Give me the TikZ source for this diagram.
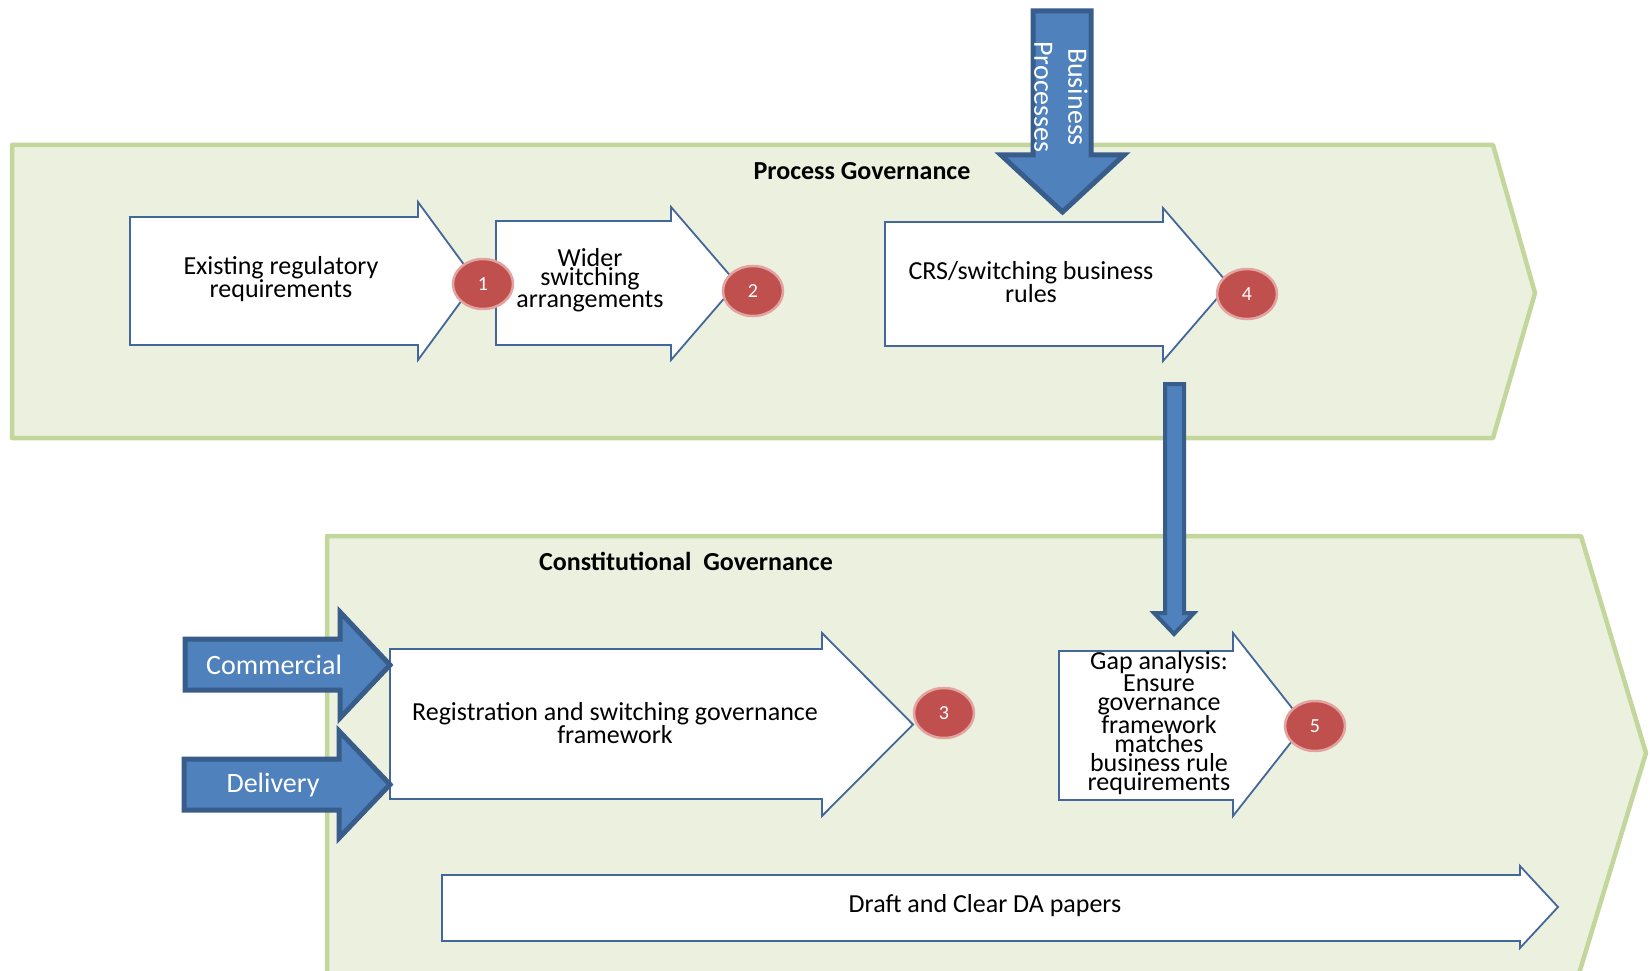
\documentclass[tikz,border=0pt]{standalone}
\usepackage{fontspec}
\setmainfont{Carlito}
\usetikzlibrary{shapes.geometric}
\definecolor{bandfill}{HTML}{EBF1DE}
\definecolor{bandline}{HTML}{C3D69B}
\definecolor{boxline}{HTML}{43679B}
\definecolor{bluefill}{HTML}{4F81BD}
\definecolor{blueline}{HTML}{385D8A}
\definecolor{stepred}{HTML}{C0504D}
\definecolor{stepring}{HTML}{E2A3A1}
% right-pointing block arrow: style, left, top, bottom, shaft end, head top, head bottom, tip
\newcommand{\harrow}[8]{%
  \draw[#1] (#2,#3) -- (#5,#3) -- (#5,#6) -- (#8,{(#6+#7)/2}) -- (#5,#7) -- (#5,#4) -- (#2,#4) -- cycle;}
% down-pointing block arrow: style, left, right, top, head base, head left, head right, tip
\newcommand{\varrow}[8]{%
  \draw[#1] (#2,#4) -- (#3,#4) -- (#3,#5) -- (#7,#5) -- ({(#6+#7)/2},#8) -- (#6,#5) -- (#2,#5) -- cycle;}
\tikzset{
  band/.style={fill=bandfill,draw=bandline,line width=4.5pt,line join=round},
  stepbox/.style={fill=white,draw=boxline,line width=1.8pt},
  bluearrow/.style={fill=bluefill,draw=blueline,line width=5pt},
  stepnum/.style={ellipse,fill=stepred,draw=stepring,line width=2.5pt,minimum width=60pt,
    minimum height=50pt,inner sep=0pt,text=white,font=\fontsize{20}{20}\selectfont},
  boxtext/.style={align=center,font=\fontsize{26}{19}\selectfont},
  bandtitle/.style={font=\bfseries\fontsize{26}{26}\selectfont},
  bluetext/.style={text=white,font=\fontsize{28}{34}\selectfont}
}
\begin{document}
\begin{tikzpicture}[x=1pt,y=-1pt]
  \useasboundingbox (0,0) rectangle (1650,971);
  % the two governance bands
  \draw[band] (12,145) -- (1493,145) -- (1535,293) -- (1493,438) -- (12,438) -- cycle;
  \draw[band] (327,536) -- (1581,536) -- (1646,753) -- (1574,990) -- (327,990) -- cycle;
  \node[bandtitle] (procgov) at (862,171) {Process Governance};
  \node[bandtitle] (constgov) at (686,561) {Constitutional~ Governance};
  % process steps
  \harrow{stepbox}{130}{217}{345}{418}{202}{360}{476}
  \harrow{stepbox}{496}{221}{345}{671}{207}{360}{737}
  \harrow{stepbox}{885}{222}{346}{1163}{208}{361}{1229}
  \node[boxtext] (existing) at (281,279) {Existing regulatory\\requirements};
  \node[boxtext] (wider) at (590,280) {Wider\\switching\\arrangements};
  \node[boxtext] (crs) at (1031,282) {CRS/switching business\\rules};
  % constitutional steps
  \harrow{stepbox}{390}{649}{799}{822}{633}{816}{913}
  \harrow{stepbox}{1059}{651}{800}{1233}{633}{816}{1305}
  \harrow{stepbox}{442}{875}{941}{1520}{866}{948}{1558}
  \node[boxtext] (regframe) at (615,723) {Registration and switching governance\\framework};
  \node[boxtext] (gap) at (1159,723) {Gap analysis:\\Ensure\\governance\\framework\\matches\\business rule\\requirements};
  \node[boxtext] (draft) at (985,906) {Draft and Clear DA papers};
  % numbered steps
  \node[stepnum] (n1) at (483,284) {1};
  \node[stepnum] (n2) at (753,291) {2};
  \node[stepnum] (n4) at (1247,294) {4};
  \node[stepnum] (n3) at (944,713) {3};
  \node[stepnum] (n5) at (1315,726) {5};
  % blue inputs
  \varrow{bluearrow}{1033}{1091}{11}{155}{1001}{1124}{212}
  \node[bluetext,rotate=-90,align=center] (bproc) at (1061,97) {Business\\Processes};
  \varrow{bluearrow,line width=4pt}{1165}{1184}{384}{613}{1154}{1194}{634}
  \harrow{bluearrow}{185}{639}{690}{340}{612}{718}{390}
  \harrow{bluearrow}{184}{759}{810}{339}{731}{838}{390}
  \node[bluetext] (commercial) at (274,665) {Commercial};
  \node[bluetext] (delivery) at (273,785) {Delivery};
\end{tikzpicture}
\end{document}
